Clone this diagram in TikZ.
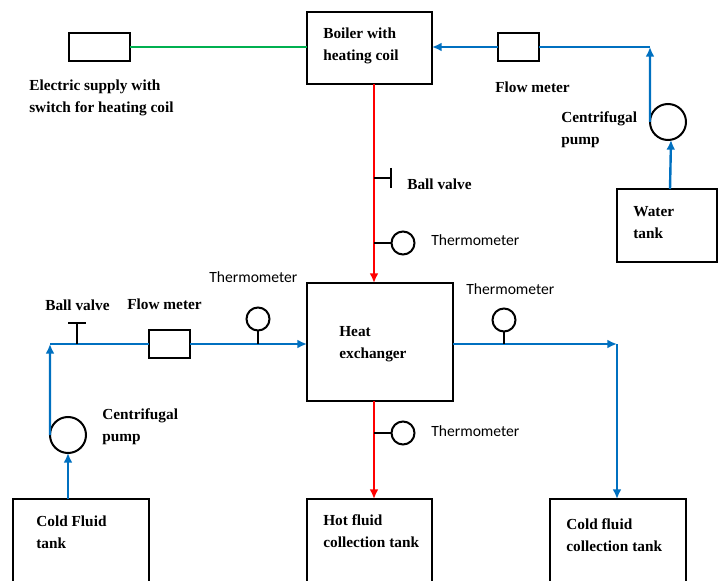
\documentclass[tikz,border=0pt]{standalone}
\usepackage{fontspec}
\setmainfont{Liberation Serif}
\newfontfamily\thermofont{Carlito}
\usepackage{xcolor}
\usetikzlibrary{arrows.meta}
\definecolor{hotred}{HTML}{FF0000}
\definecolor{flowblue}{HTML}{0070C0}
\definecolor{supplygreen}{HTML}{00B050}

\begin{document}
\begin{tikzpicture}[
    x=0.25mm, y=-0.25mm,
    >={Latex[length=2.4mm,width=2.2mm]},
    unitbox/.style={draw=black, line width=0.5mm, outer sep=0pt, inner sep=0pt},
    meterbox/.style={unitbox, minimum width=10.25mm, minimum height=7mm},
    pumpnode/.style={unitbox, circle, minimum size=9mm},
    thermonode/.style={unitbox, circle, minimum size=5.75mm},
    boldlabel/.style={anchor=west, inner sep=0pt, align=left, yshift=-0.25mm,
        font=\fontsize{10.9}{15.6}\selectfont\bfseries},
    thermolabel/.style={anchor=west, inner sep=0pt,
        font=\fontsize{11.1}{12}\selectfont\thermofont},
    hotline/.style={line width=0.55mm, hotred},
    coldline/.style={line width=0.6mm, flowblue},
    stemline/.style={line width=0.5mm, black},
]
\clip (0,0) rectangle (723,581);

% boxes
\node[unitbox, minimum width=31.25mm, minimum height=18mm] (boiler) at (369.5,48) {};
\node[unitbox, minimum width=36.5mm, minimum height=29.5mm] (hx) at (380,342) {};
\node[unitbox, minimum width=25mm, minimum height=18.25mm] (watertank) at (667,225.5) {};
\node[unitbox, minimum width=34mm, minimum height=41mm] (coldtank) at (81,581) {};
\node[unitbox, minimum width=31.25mm, minimum height=41mm] (hottank) at (369.5,581) {};
\node[unitbox, minimum width=34mm, minimum height=41mm] (collecttank) at (618,581) {};

\node[meterbox, minimum width=15.25mm] (supply) at (99.5,47) {};
\node[meterbox] (flowtop) at (518.5,47) {};
\node[meterbox] (flowleft) at (169.5,344) {};

\node[pumpnode] (waterpump) at (668,122) {};
\node[pumpnode] (coldpump) at (68,435) {};

\node[thermonode] (thermotop) at (403,243) {};
\node[thermonode] (thermobottom) at (403,433) {};
\node[thermonode] (thermoleft) at (258,319) {};
\node[thermonode] (thermoright) at (504,320) {};

\coordinate (redline) at (374,0);
\coordinate (watercorner) at (650,47);
\coordinate (coldcorner) at (50,344);
\coordinate (outcorner) at (617,344);
\coordinate (valvetop) at (391,178);
\coordinate (valveleft) at (77,323);

% supply and water side
\draw[line width=0.5mm, supplygreen] (supply.east) -- (supply.east -| boiler.west);
\draw[->, coldline] ([xshift=0.75mm]watertank.north) -- ([xshift=0.75mm]waterpump.south);
\draw[->, coldline] (waterpump.west) -- (watercorner);
\draw[coldline] (watercorner) -- (flowtop.east);
\draw[->, coldline] (flowtop.west) -- (flowtop.west -| boiler.east);

% hot side
\draw[->, hotline] (redline |- boiler.south) -- (redline |- hx.north);
\draw[->, hotline] (redline |- hx.south) -- (redline |- hottank.north);
\draw[stemline] (redline |- valvetop) -- (valvetop);
\draw[stemline] ([yshift=2.5mm]valvetop) -- ([yshift=-2.5mm]valvetop);
\draw[stemline] (redline |- thermotop) -- (thermotop.west);
\draw[stemline] (redline |- thermobottom) -- (thermobottom.west);

% cold side
\draw[->, coldline] (coldpump.south |- coldtank.north) -- (coldpump.south);
\draw[->, coldline] (coldpump.west) -- (coldcorner);
\draw[coldline] (coldcorner) -- (flowleft.west);
\draw[->, coldline] (flowleft.east) -- (flowleft.east -| hx.west);
\draw[->, coldline] (hx.east |- coldcorner) -- (outcorner);
\draw[->, coldline] (outcorner) -- (outcorner |- collecttank.north);
\draw[stemline] (valveleft |- coldcorner) -- (valveleft);
\draw[stemline] ([xshift=-2.25mm]valveleft) -- ([xshift=2.25mm]valveleft);
\draw[stemline] (thermoleft.south) -- (thermoleft.south |- coldcorner);
\draw[stemline] (thermoright.south) -- (thermoright.south |- coldcorner);

% labels
\node[boldlabel] (boilertext) at (323,45) {Boiler with\\heating coil};
\node[boldlabel] (supplytext) at (29,96.5) {Electric supply with\\switch for heating coil};
\node[boldlabel] (flowtoptext) at (495,86) {Flow meter};
\node[boldlabel] (waterpumptext) at (561,129) {Centrifugal\\pump};
\node[boldlabel] (watertext) at (633,221.5) {Water\\tank};
\node[boldlabel] (valvetoptext) at (407,183) {Ball valve};
\node[boldlabel] (valvelefttext) at (45,304) {Ball valve};
\node[boldlabel] (flowlefttext) at (127,303) {Flow meter};
\node[boldlabel] (coldpumptext) at (102,426) {Centrifugal\\pump};
\node[boldlabel] (hxtext) at (339,343) {Heat\\exchanger};
\node[boldlabel] (coldtext) at (36,531) {Cold Fluid\\tank};
\node[boldlabel] (hottext) at (323,530.5) {Hot fluid\\collection tank};
\node[boldlabel] (collecttext) at (566,534) {Cold fluid\\collection tank};
\node[thermolabel] (thermotoptext) at (431,240) {Thermometer};
\node[thermolabel] (thermobottomtext) at (431,431) {Thermometer};
\node[thermolabel] (thermolefttext) at (209,277) {Thermometer};
\node[thermolabel] (thermorighttext) at (466,289) {Thermometer};
\end{tikzpicture}
\end{document}
